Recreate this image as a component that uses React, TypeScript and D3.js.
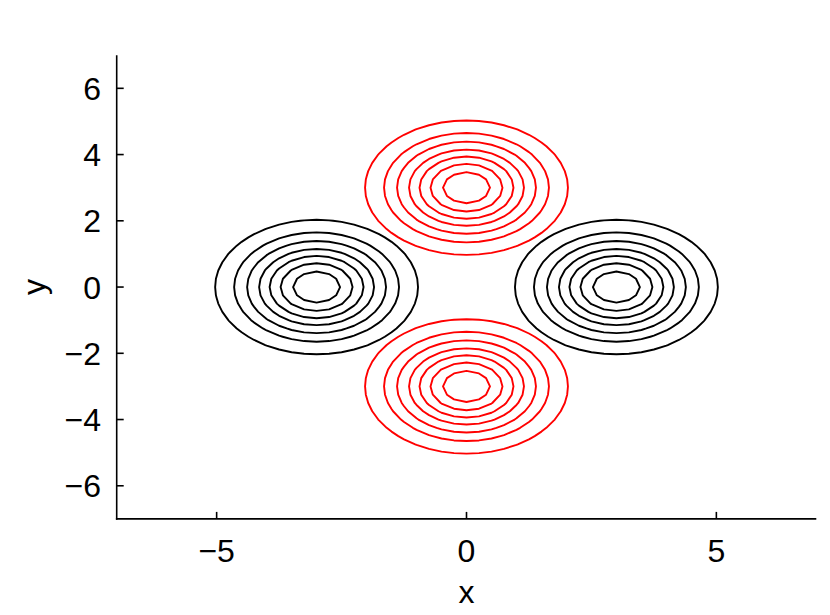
import React from "react";
import * as d3 from "d3";

// ---- data ----
const blackCenters: [number, number][] = [[-3, 0], [3, 0]];
const redCenters: [number, number][] = [[0, 3], [0, -3]];
const ringRadii = [2.03, 1.65, 1.39, 1.15, 0.94, 0.72, 0.47];
const xTicks = [-5, 0, 5];
const yTicks = [-6, -4, -2, 0, 2, 4, 6];
const xDomain: [number, number] = [-7, 7];
const yDomain: [number, number] = [-7, 7];
const gridStep = 0.25;

const W = 830, H = 615;
const left = 116.7, right = 816.3, top = 55.2, bottom = 518.9;
const FONT = "'Liberation Sans', Arial, Helvetica, sans-serif";

function fmt(v: number) {
  return v < 0 ? "\u2212" + Math.abs(v) : String(v);
}

function contourPaths(centers: [number, number][], x: any, y: any) {
  const n = Math.round((xDomain[1] - xDomain[0]) / gridStep) + 1;
  const values: number[] = new Array(n * n);
  for (let j = 0; j < n; j++) {
    for (let i = 0; i < n; i++) {
      const px = xDomain[0] + i * gridStep;
      const py = yDomain[0] + j * gridStep;
      let d = Infinity;
      for (const [cx, cy] of centers) d = Math.min(d, Math.hypot(px - cx, py - cy));
      values[j * n + i] = -d;
    }
  }
  const gen = d3.contours().size([n, n]).thresholds(ringRadii.map((r) => -r));
  const cs = gen(values);
  const proj = d3.geoTransform({
    point: function (gx: number, gy: number) {
      const dx = xDomain[0] + (gx - 0.5) * gridStep;
      const dy = yDomain[0] + (gy - 0.5) * gridStep;
      (this as any).stream.point(x(dx), y(dy));
    },
  });
  const path = d3.geoPath(proj);
  return cs.map((c) => path(c as any) || "");
}

export default function App() {
  const x = d3.scaleLinear().domain(xDomain).range([left, right]);
  const y = d3.scaleLinear().domain(yDomain).range([bottom, top]);
  const blackPaths = contourPaths(blackCenters, x, y);
  const redPaths = contourPaths(redCenters, x, y);
  return (
    <svg
      width={W}
      height={H}
      style={{ position: "absolute", left: 0, top: 0, background: "#fff" }}
      fontFamily={FONT}
    >
      <rect width={W} height={H} fill="#fff" />
      <g fill="none" strokeWidth={1.9} strokeLinejoin="round">
        {blackPaths.map((d, i) => (
          <path key={"b" + i} d={d} stroke="#000" />
        ))}
        {redPaths.map((d, i) => (
          <path key={"r" + i} d={d} stroke="#ff0000" />
        ))}
      </g>
      {/* axes */}
      <g stroke="#000" strokeWidth={1.6} fill="none">
        <line x1={left} x2={left} y1={top} y2={bottom + 0.8} />
        <line x1={left - 0.8} x2={right} y1={bottom} y2={bottom} />
        {xTicks.map((t) => (
          <line key={"xt" + t} x1={x(t)} x2={x(t)} y1={bottom} y2={bottom - 7} />
        ))}
        {yTicks.map((t) => (
          <line key={"yt" + t} x1={left} x2={left + 7} y1={y(t)} y2={y(t)} />
        ))}
      </g>
      <g fontSize={32} fill="#000">
        {xTicks.map((t) => (
          <text key={"xl" + t} x={x(t)} y={562} textAnchor="middle">
            {fmt(t)}
          </text>
        ))}
        {yTicks.map((t) => (
          <text key={"yl" + t} x={101} y={y(t) + 11.5} textAnchor="end">
            {fmt(t)}
          </text>
        ))}
        <text x={x(0)} y={603} textAnchor="middle">x</text>
        <text transform={`translate(45, ${y(0)}) rotate(-90)`} textAnchor="middle">
          y
        </text>
      </g>
    </svg>
  );
}
